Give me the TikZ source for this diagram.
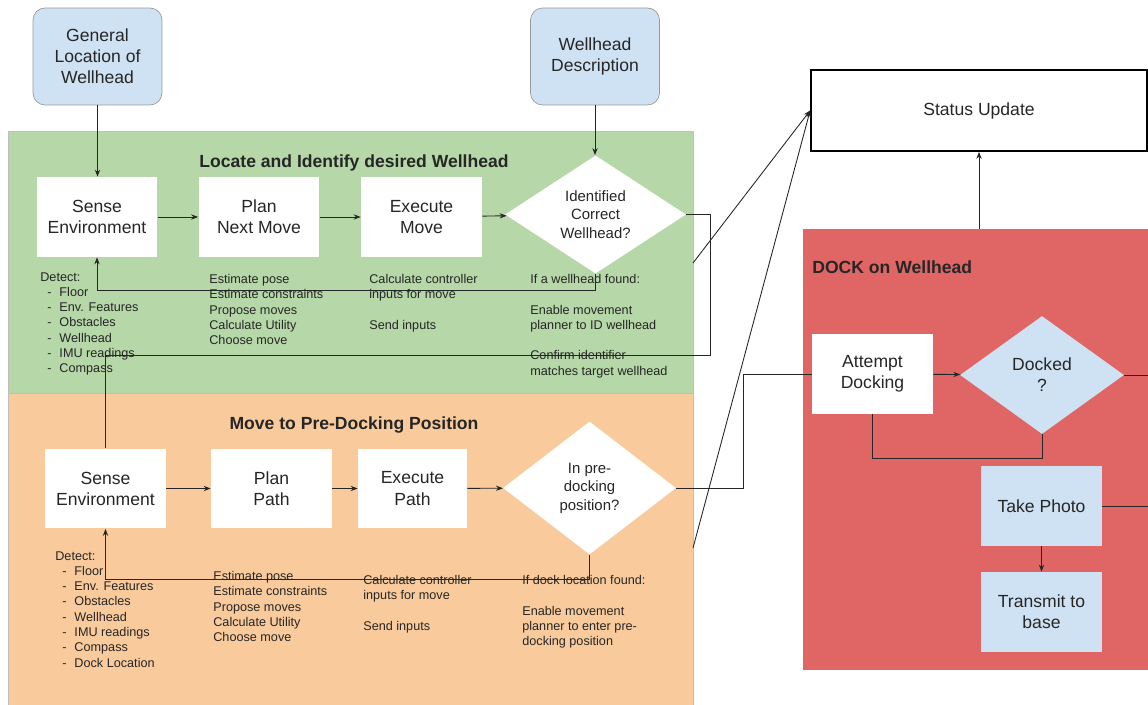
\documentclass[tikz,border=0pt]{standalone}
\usepackage{fontspec}
\setmainfont{Liberation Sans}
\usetikzlibrary{shapes.geometric,arrows.meta}

\definecolor{lightblue}{HTML}{CFE2F3}
\definecolor{greenbg}{HTML}{B6D7A8}
\definecolor{orangebg}{HTML}{F9CB9C}
\definecolor{redbg}{HTML}{E06666}

\newcommand{\bul}[1]{\hspace*{4pt}-\hspace{4.5pt}#1}

\begin{document}
\begin{tikzpicture}[
  x=0.02cm, y=-0.02cm,
  every node/.append style={text=black!85},
  panel/.style={rectangle,anchor=north west,draw=black!25,inner sep=0pt},
  box/.style={rectangle,fill=white,minimum width=2.42cm,minimum height=1.6cm,align=center,font=\fontsize{10}{12}\selectfont,inner sep=0pt},
  bluebox/.style={box,fill=lightblue},
  startbox/.style={rectangle,rounded corners=0.24cm,draw=black!40,fill=lightblue,minimum width=2.58cm,minimum height=1.94cm,align=center,font=\fontsize{10}{12}\selectfont},
  decide/.style={diamond,fill=white,inner sep=0pt,align=center,font=\fontsize{8.5}{10.5}\selectfont},
  note/.style={anchor=north west,align=left,inner sep=0pt,font=\fontsize{7.2}{8.7}\selectfont},
  heading/.style={font=\bfseries\fontsize{10}{12}\selectfont,inner sep=0pt},
  arr/.style={draw=black!85,line width=0.5pt,-{Stealth[length=4pt,width=3pt]}},
  wire/.style={draw=black!85,line width=0.5pt}
]
\useasboundingbox (0,0) rectangle (1148,705);

% panels
\node[panel,fill=greenbg,minimum width=13.7cm,minimum height=5.24cm] (green) at (8,131) {};
\node[panel,fill=orangebg,minimum width=13.7cm,minimum height=6.24cm] (orange) at (8,393) {};
\node[panel,draw=none,fill=redbg,minimum width=6.9cm,minimum height=8.82cm] (red) at (803,229) {};

\node[heading] (ttlA) at (354,162.5) {Locate and Identify desired Wellhead};
\node[heading] (ttlB) at (354,424.5) {Move to Pre-Docking Position};
\node[heading,anchor=west] (ttlC) at (812,267) {DOCK on Wellhead};

% inputs
\node[startbox] (genloc) at (97.5,56.5) {General\\Location of\\Wellhead};
\node[startbox] (desc) at (595,56.5) {Wellhead\\Description};

\node[rectangle,draw=black,line width=1pt,fill=white,minimum width=6.72cm,minimum height=1.62cm,font=\fontsize{10}{12}\selectfont] (status) at (979,110.5) {\raisebox{-1pt}{Status Update}};

% locate and identify
\node[box] (sense1) at (97,217) {Sense\\Environment};
\node[box] (plan1) at (259,217) {Plan\\Next Move};
\node[box] (exec1) at (421.5,217) {Execute\\Move};
\node[decide,minimum width=3.62cm,minimum height=2.08cm] (ident) at (595.5,214.5) {Identified\\Correct\\Wellhead?};

\node[note] (detA) at (40,272) {Detect:\\\bul{Floor}\\\bul{Env. Features}\\\bul{Obstacles}\\\bul{Wellhead}\\\bul{IMU readings}\\\bul{Compass}};
\node[note] (planA) at (209,274) {Estimate pose\\Estimate constraints\\Propose moves\\Calculate Utility\\Choose move};
\node[note] (execA) at (369,274) {Calculate controller\\inputs for move\\[8.7pt]Send inputs};
\node[note] (identA) at (530,274) {If a wellhead found:\\[8.7pt]Enable movement\\planner to ID wellhead\\[8.7pt]Confirm identifier\\matches target wellhead};

% pre-docking
\node[box] (sense2) at (105.5,488.5) {Sense\\Environment};
\node[box] (plan2) at (271.5,488.5) {Plan\\Path};
\node[box,minimum width=2.18cm] (exec2) at (412.5,488.5) {Execute\\Path};
\node[decide,minimum width=3.46cm,minimum height=2.66cm] (pre) at (589.5,488) {In pre-\\docking\\position?};

\node[note] (detB) at (55,551) {Detect:\\\bul{Floor}\\\bul{Env. Features}\\\bul{Obstacles}\\\bul{Wellhead}\\\bul{IMU readings}\\\bul{Compass}\\\bul{Dock Location}};
\node[note] (planB) at (213,571) {Estimate pose\\Estimate constraints\\Propose moves\\Calculate Utility\\Choose move};
\node[note] (execB) at (363,575) {Calculate controller\\inputs for move\\[8.7pt]Send inputs};
\node[note] (preB) at (522,575) {If dock location found:\\[8.7pt]Enable movement\\planner to enter pre-\\docking position};

% docking
\node[box] (attempt) at (872.5,374) {Attempt\\Docking};
\node[decide,fill=lightblue,minimum width=3.28cm,minimum height=2.36cm,font=\fontsize{10}{12}\selectfont] (docked) at (1042,375) {Docked\\?};
\node[bluebox] (photo) at (1041.5,506) {Take Photo};
\node[bluebox] (transmit) at (1041.5,612) {Transmit to\\base};

\coordinate (gOut) at (693,263);
\coordinate (oOut) at (693,548);
\coordinate (fb1) at (0,290);
\coordinate (loop1) at (710,355);
\coordinate (fb2) at (0,579);
\coordinate (jog) at (743,0);
\coordinate (fb3) at (0,458);
\coordinate (edge) at (1148,0);

\draw[arr] (genloc.south) -- (genloc.south |- sense1.north);
\draw[arr] (desc.south) -- (desc.south |- ident.north);
\draw[arr] (sense1) -- (plan1);
\draw[arr] (plan1) -- (exec1);
\draw[arr] (exec1) -- (ident);
\draw[arr] (ident.south) -- (ident.south |- fb1) -| (sense1.south);
\draw[wire] (ident.east) -| (loop1) -| (sense2.north);
\draw[arr] (gOut) -- (status.west);
\draw[arr] (oOut) -- (status.west);

\draw[arr] (sense2) -- (plan2);
\draw[arr] (plan2) -- (exec2);
\draw[arr] (exec2) -- (pre);
\draw[arr] (pre.south) -- (pre.south |- fb2) -| (sense2.south);
\draw[wire] (pre.east) -| (jog |- attempt.west) -- (attempt.west);

\draw[arr] (attempt) -- (docked);
\draw[wire] (docked.east) -- (docked.east -| edge);
\draw[wire] (docked.south) -- (docked.south |- fb3) -| (attempt.south);
\draw[wire] (photo.east) -- (photo.east -| edge);
\draw[arr] (photo) -- (transmit);
\draw[arr] (status.south |- red.north) -- (status.south);

\end{tikzpicture}
\end{document}
